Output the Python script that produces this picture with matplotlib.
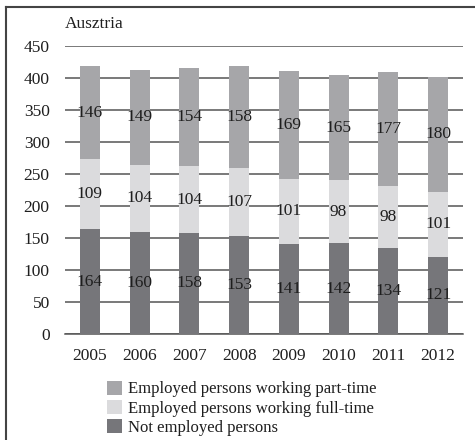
import numpy as np
import matplotlib
matplotlib.use("Agg")
import matplotlib.pyplot as plt
from matplotlib.lines import Line2D

years = ["2005", "2006", "2007", "2008", "2009", "2010", "2011", "2012"]
not_employed = [164, 160, 158, 153, 141, 142, 134, 121]
full_time = [109, 104, 104, 107, 101, 98, 98, 101]
part_time = [146, 149, 154, 158, 169, 165, 177, 180]
yticks = [0, 50, 100, 150, 200, 250, 300, 350, 400, 450]

plt.rcParams['font.family'] = ['Liberation Serif', 'DejaVu Serif']

c_part = '#a6a6a9'
c_full = '#dbdbdd'
c_not = '#76767a'
txt = '#1e1e1e'
fs = 12.5

fig = plt.figure(figsize=(4.75, 4.4), dpi=100)
ax = fig.add_axes([65/475, 1 - 334/440, 398/475, 288/440])

x = np.arange(len(years))
w = 0.4
ne = np.array(not_employed)
ft = np.array(full_time)
pt = np.array(part_time)

ax.bar(x, ne, w, color=c_not, zorder=3, label='Not employed persons')
ax.bar(x, ft, w, bottom=ne, color=c_full, zorder=3, label='Employed persons working full-time')
ax.bar(x, pt, w, bottom=ne + ft, color=c_part, zorder=3, label='Employed persons working part-time')

# value labels in the middle of each segment
for i in range(len(years)):
    ax.text(x[i], ne[i] / 2, str(ne[i]), ha='center', va='center', fontsize=fs, color=txt, zorder=4)
    ax.text(x[i], ne[i] + ft[i] / 2, str(ft[i]), ha='center', va='center', fontsize=fs, color=txt, zorder=4)
    ax.text(x[i], ne[i] + ft[i] + pt[i] / 2, str(pt[i]), ha='center', va='center', fontsize=fs, color=txt, zorder=4)

ax.set_xlim(-0.5, len(years) - 0.5)
ax.set_ylim(0, 450)
ax.set_yticks(yticks)
ax.set_xticks(x)
ax.set_xticklabels(years)
ax.yaxis.grid(True, color='#555555', linewidth=1.1, zorder=0)
ax.set_axisbelow(True)
for s in ['top', 'right', 'left']:
    ax.spines[s].set_visible(False)
ax.spines['bottom'].set_color('#555555')
ax.spines['bottom'].set_linewidth(1.1)
ax.tick_params(axis='both', length=0, labelsize=fs, colors=txt)
ax.tick_params(axis='y', pad=11)
ax.tick_params(axis='x', pad=10)

ax.text(0, 1.05, 'Ausztria', transform=ax.transAxes, ha='left', va='bottom', fontsize=fs, color=txt)

handles, labels = ax.get_legend_handles_labels()
leg = fig.legend(handles[::-1], labels[::-1], loc='upper left', bbox_to_anchor=(100/475, 1 - 374/440),
                 frameon=False, fontsize=12, handlelength=0.9, handleheight=0.9,
                 handletextpad=0.4, labelspacing=0.15, borderaxespad=0)
for t in leg.get_texts():
    t.set_color(txt)

# partial frame around the figure
fig.add_artist(Line2D([6/475, 6/475], [0, 1 - 7/440], transform=fig.transFigure, color='#444444', linewidth=1.5))
fig.add_artist(Line2D([6/475, 1], [1 - 7/440, 1 - 7/440], transform=fig.transFigure, color='#444444', linewidth=1.5))

fig.savefig('out.png', dpi=100)
